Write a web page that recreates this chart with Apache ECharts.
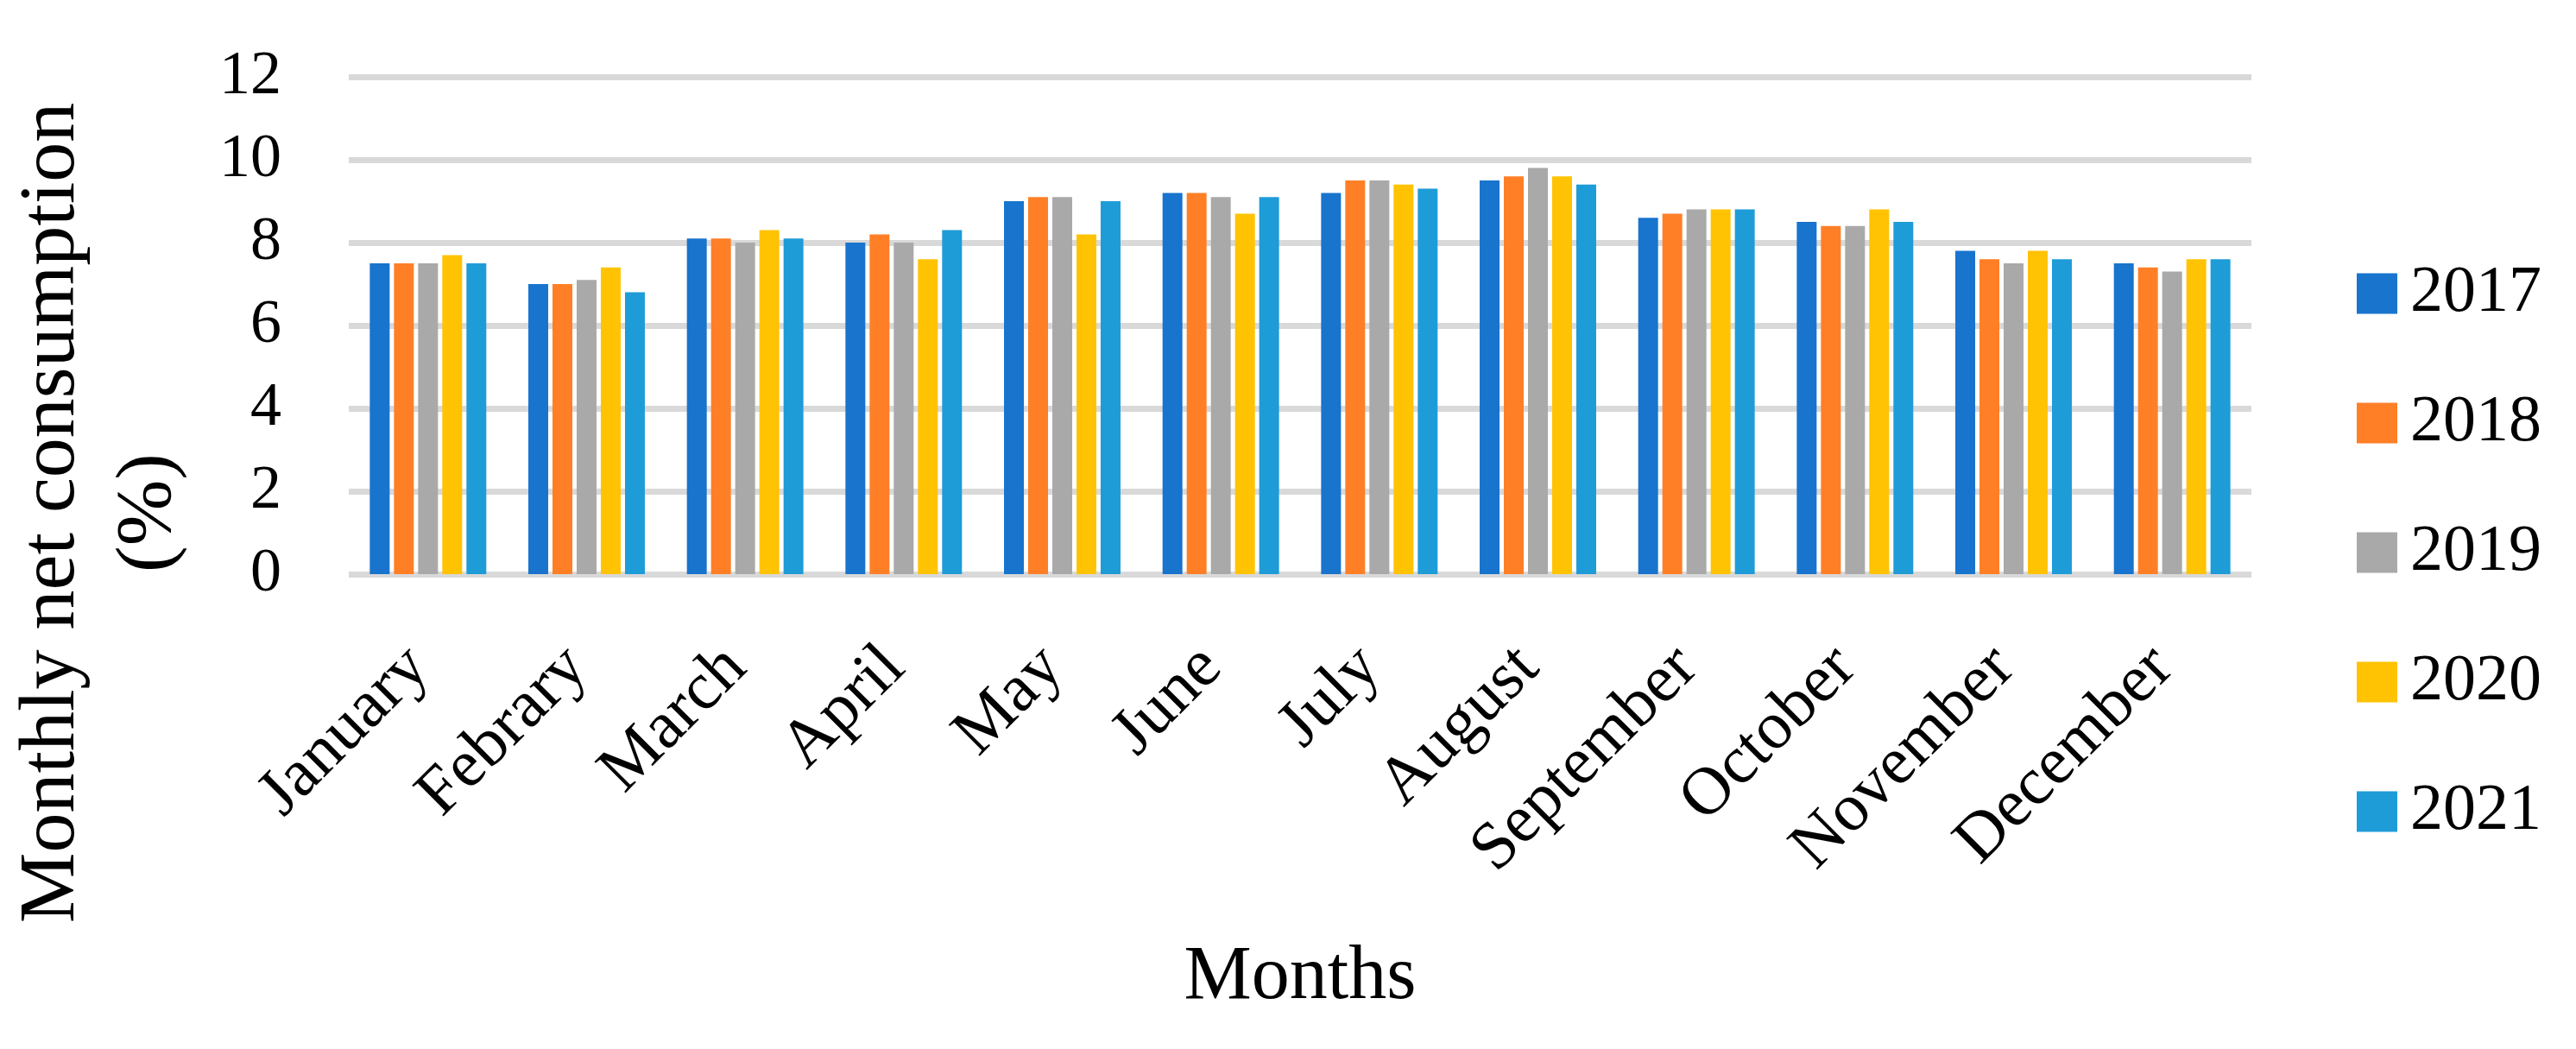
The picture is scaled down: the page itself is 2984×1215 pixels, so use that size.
<!DOCTYPE html>
<html>
<head>
<meta charset="utf-8">
<script src="https://cdn.jsdelivr.net/npm/echarts@6/dist/echarts.min.js"></script>
<style>html,body{margin:0;padding:0;background:#fff;}#main{width:2984px;height:1215px;}</style>
</head>
<body>
<div id="main"></div>
<script>
const months = ['January','Febrary','March','April','May','June','July','August','September','October','November','December'];
const years = ['2017','2018','2019','2020','2021'];
const v2017 = [7.5, 7.0, 8.1, 8.0, 9.0, 9.2, 9.2, 9.5, 8.6, 8.5, 7.8, 7.5];
const v2018 = [7.5, 7.0, 8.1, 8.2, 9.1, 9.2, 9.5, 9.6, 8.7, 8.4, 7.6, 7.4];
const v2019 = [7.5, 7.1, 8.0, 8.0, 9.1, 9.1, 9.5, 9.8, 8.8, 8.4, 7.5, 7.3];
const v2020 = [7.7, 7.4, 8.3, 7.6, 8.2, 8.7, 9.4, 9.6, 8.8, 8.8, 7.8, 7.6];
const v2021 = [7.5, 6.8, 8.1, 8.3, 9.0, 9.1, 9.3, 9.4, 8.8, 8.5, 7.6, 7.6];
const yTicks = [0, 2, 4, 6, 8, 10, 12];
const colors = ['#1874CD', '#FF7F27', '#A9A9A9', '#FFC303', '#1E9CD8'];
const seriesValues = [v2017, v2018, v2019, v2020, v2021];

const FONT = 'Liberation Serif';
const chart = echarts.init(document.getElementById('main'));
chart.setOption({
  backgroundColor: '#ffffff',
  animation: false,
  color: colors,
  grid: { left: 404, right: 376, top: 89, bottom: 550, containLabel: false },
  legend: {
    orient: 'vertical',
    left: 2730,
    top: 302,
    itemWidth: 47,
    itemHeight: 47,
    itemGap: 74,
    padding: 0,
    icon: 'rect',
    textStyle: { fontFamily: FONT, fontSize: 76, color: '#000', padding: [0, 0, 0, 10] },
    data: years
  },
  xAxis: {
    type: 'category',
    data: months,
    axisLine: { show: false },
    axisTick: { show: false },
    axisLabel: { rotate: 45, interval: 0, margin: 86, padding: [0, 15, 0, 0], fontFamily: FONT, fontSize: 78, color: '#000' },
    name: 'Months',
    nameLocation: 'middle',
    nameGap: 424,
    nameTextStyle: { fontFamily: FONT, fontSize: 88, color: '#000' }
  },
  yAxis: {
    type: 'value',
    min: yTicks[0],
    max: yTicks[yTicks.length - 1],
    interval: yTicks[1] - yTicks[0],
    axisLine: { show: false },
    axisTick: { show: false },
    axisLabel: { margin: 78, fontFamily: FONT, fontSize: 72, color: '#000' },
    splitLine: { show: true, lineStyle: { color: '#D9D9D9', width: 7 } }
  },
  graphic: [{
    type: 'text',
    x: 117,
    y: 594,
    rotation: Math.PI / 2,
    style: {
      text: 'Monthly net consumption\n(%)',
      font: '92px "Liberation Serif"',
      fill: '#000',
      textAlign: 'center',
      textVerticalAlign: 'middle',
      lineHeight: 112
    }
  }],
  series: years.map((y, i) => ({
    name: y,
    type: 'bar',
    data: seriesValues[i],
    barWidth: 23,
    barGap: '21.7%',
    itemStyle: { color: colors[i] }
  }))
});
</script>
</body>
</html>
